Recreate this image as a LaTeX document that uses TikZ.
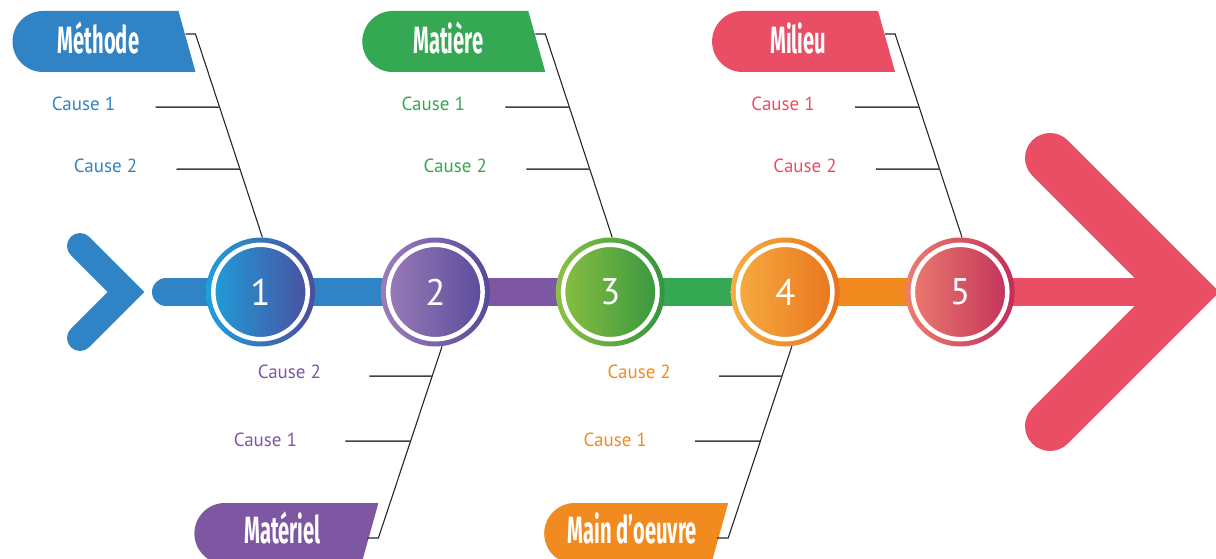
\documentclass[tikz,border=0pt]{standalone}
\usepackage{fontspec}
\setmainfont{PT Sans}
\newfontfamily\titlefont{Fira Sans}[FakeStretch=0.53]

\definecolor{fbBlue}{HTML}{3083C5}
\definecolor{fbPurple}{HTML}{7E57A2}
\definecolor{fbGreen}{HTML}{34A852}
\definecolor{fbOrange}{HTML}{F18B1F}
\definecolor{fbRed}{HTML}{E94E64}
\definecolor{gOneL}{HTML}{1DA1DC}
\definecolor{gOneR}{HTML}{4D4C9C}
\definecolor{gTwoL}{HTML}{9D7DB8}
\definecolor{gTwoR}{HTML}{574A9B}
\definecolor{gThreeL}{HTML}{8DC043}
\definecolor{gThreeR}{HTML}{34953F}
\definecolor{gFourL}{HTML}{F7AE43}
\definecolor{gFourR}{HTML}{E8731B}
\definecolor{gFiveL}{HTML}{EC7E6E}
\definecolor{gFiveR}{HTML}{C12E5A}

\tikzset{
  spine/.style={line width=28pt},
  rib/.style={draw=black!85, line width=1.1pt},
  twig/.style={draw=black!75, line width=1.5pt},
  cause/.style={inner sep=0pt, font=\fontsize{19}{19}\selectfont},
  disc/.style={circle, inner sep=0pt, minimum size=109pt, text=white, font=\fontsize{37}{37}\selectfont},
  title/.style={inner sep=0pt, text=white, font=\titlefont\bfseries\fontsize{38}{38}\selectfont},
}

\begin{document}
\begin{tikzpicture}[x=1pt,y=-1pt]
    \clip (0,0) rectangle (1216,559);
    % centres of the five bones
    \foreach \i in {1,...,5}
        \coordinate (o\i) at (260.5+174.9*\i-174.9,292);
    \coordinate (tail) at (166,292);
    \coordinate (head) at (1184,292);
    % spine, one colour per stretch
    \draw[spine, fbBlue, line cap=round] (tail) -- (o2);
    \draw[spine, fbPurple] (o2) -- (o3);
    \draw[spine, fbGreen] (o3) -- (o4);
    \draw[spine, fbOrange] (o4) -- (o5);
    \draw[spine, fbRed] (o5) -- (head);
    % tail and head chevrons
    \draw[fbBlue, line width=26pt, line cap=round] (80,246) -- (126,292) -- (80,338);
    \draw[fbRed, line width=50pt, line cap=round] (1050,158) -- (head) -- (1050,426);
    % numbered discs
    \foreach \i/\cl/\cr in {1/gOneL/gOneR, 2/gTwoL/gTwoR, 3/gThreeL/gThreeR, 4/gFourL/gFourR, 5/gFiveL/gFiveR} {
        \node[disc, left color=\cl, right color=\cr] (c\i) at (o\i) {\i};
        \draw[white, line width=4.5pt] (c\i.center) circle[radius=47.2];
    }
    % upper bones
    \foreach \i/\lbl/\col in {1/Méthode/fbBlue, 3/Matière/fbGreen, 5/Milieu/fbRed} {
        \pgfmathsetmacro\cx{260.5+174.9*(\i-1)}
        \fill[\col] (\cx-217.5,11) arc[start angle=270, end angle=90, radius=30.5] -- (\cx-65,72) -- (\cx-82,11) -- cycle;
        \node[title, anchor=base] (t\i) at (\cx-162,54) {\lbl};
        \coordinate (k\i) at (\cx-65,34);
        \draw[rib] (\cx-75,34) -- (k\i) -- coordinate[pos=0.36] (a\i) coordinate[pos=0.665] (b\i) (c\i.88);
        \node[cause, text=\col] (qa\i) at (\cx-177,104) {Cause 1};
        \node[cause, text=\col] (qb\i) at (\cx-155,166) {Cause 2};
        \coordinate (ea\i) at (\cx-105,107);
        \coordinate (eb\i) at (\cx-84,169);
        \draw[twig] (ea\i) -- (a\i);
        \draw[twig] (eb\i) -- (b\i);
    }
    % lower bones
    \foreach \i/\lbl/\col in {2/Matériel/fbPurple, 4/Main d’oeuvre/fbOrange} {
        \pgfmathsetmacro\cx{260.5+174.9*(\i-1)}
        \fill[\col] (\cx-210.5,503) arc[start angle=270, end angle=90, radius=30.5] -- (\cx-74,564) -- (\cx-57,503) -- cycle;
        \node[title, anchor=base] (t\i) at (\cx-153,543) {\lbl};
        \coordinate (k\i) at (\cx-57,538);
        \draw[rib] (c\i.277) -- coordinate[pos=0.156] (b\i) coordinate[pos=0.495] (a\i) (k\i) -- (\cx-68,538);
        \node[cause, text=\col] (qb\i) at (\cx-146,372) {Cause 2};
        \node[cause, text=\col] (qa\i) at (\cx-170,440) {Cause 1};
        \coordinate (eb\i) at (\cx-66,376);
        \coordinate (ea\i) at (\cx-90,441);
        \draw[twig] (eb\i) -- (b\i);
        \draw[twig] (ea\i) -- (a\i);
    }
\end{tikzpicture}
\end{document}
